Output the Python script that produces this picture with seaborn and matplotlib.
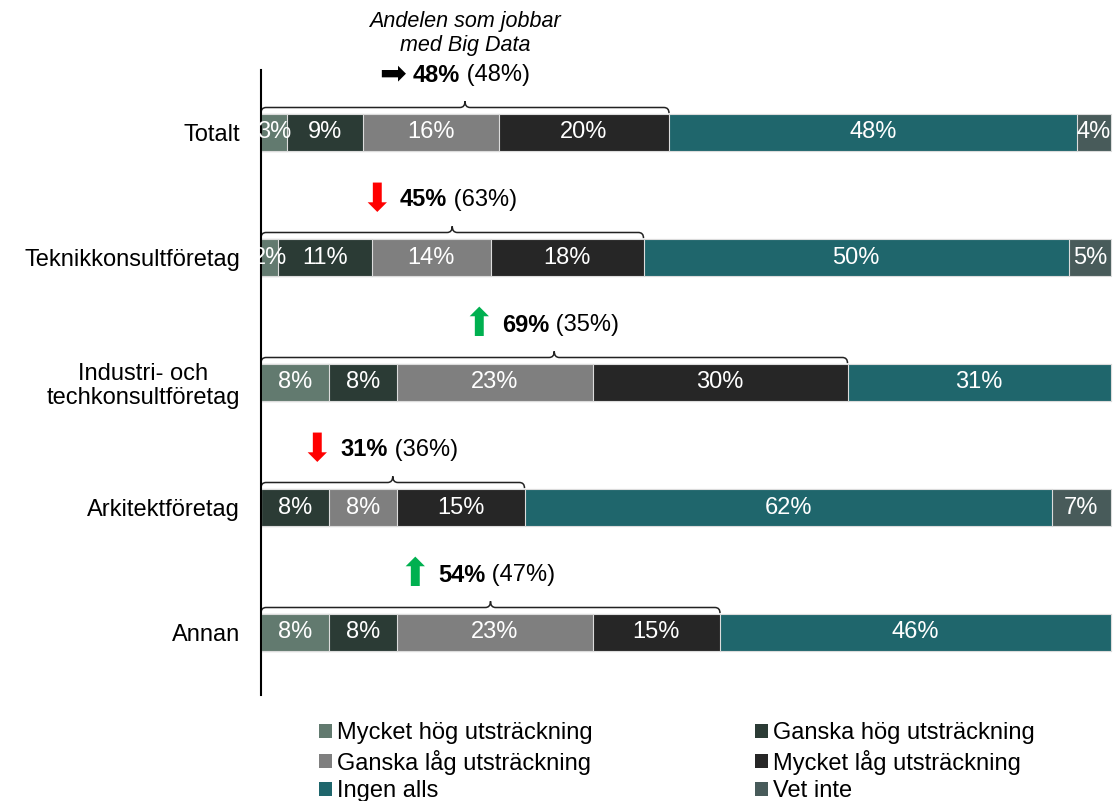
import numpy as np
import pandas as pd
import matplotlib
matplotlib.use('Agg')
import matplotlib.pyplot as plt
from matplotlib.path import Path
from matplotlib.patches import PathPatch, Patch
import seaborn as sns

# Data
categories = ['Totalt', 'Teknikkonsultföretag', 'Industri- och\ntechkonsultföretag',
              'Arkitektföretag', 'Annan']
series = ['Mycket hög utsträckning', 'Ganska hög utsträckning', 'Ganska låg utsträckning',
          'Mycket låg utsträckning', 'Ingen alls', 'Vet inte']
mycket_hog = [3, 2, 8, 0, 8]
ganska_hog = [9, 11, 8, 8, 8]
ganska_lag = [16, 14, 23, 8, 23]
mycket_lag = [20, 18, 30, 15, 15]
ingen_alls = [48, 50, 31, 62, 46]
vet_inte = [4, 5, 0, 7, 0]
big_data_share = [48, 45, 69, 31, 54]
previous_share = [48, 63, 35, 36, 47]
trend = ['flat', 'down', 'up', 'down', 'up']

colors = ['#627a6f', '#2b3b35', '#7f7f7f', '#262626', '#1f666c', '#485b5a']
# glyph, colour, font size
trend_glyph = {'flat': ('\u27a1', 'black', 23),
               'down': ('\u2b07', '#ff0000', 28),
               'up': ('\u2b06', '#00b050', 28)}

sns.set_theme(style='white')
plt.rcParams['font.family'] = ['Liberation Sans', 'DejaVu Sans']
plt.rcParams['text.color'] = 'black'

values = [mycket_hog, ganska_hog, ganska_lag, mycket_lag, ingen_alls, vet_inte]
df = pd.DataFrame({'kategori': categories})
for name, vals in zip(series, values):
    df[name] = vals
cum = df[series].cumsum(axis=1)

fig = plt.figure(figsize=(11.15, 8.01), dpi=100)
ax = fig.add_axes([261 / 1115, 1 - 695 / 801, (1115 - 261) / 1115, (695 - 70) / 801])

# stacked bars: draw cumulative totals from the longest down
for name, col in reversed(list(zip(series, colors))):
    sns.barplot(x=cum[name], y=df['kategori'], color=col, saturation=1, width=0.3,
                edgecolor='#dcdcdc', linewidth=0.8, orient='h', ax=ax)

ax.set_xlim(0, 100.47)
ax.set_ylim(4.5, -0.5)
ax.set_xlabel('')
ax.set_ylabel('')
ax.xaxis.set_visible(False)
for s in ['top', 'right', 'bottom']:
    ax.spines[s].set_visible(False)
ax.spines['left'].set_color('black')
ax.spines['left'].set_linewidth(1.5)
ax.tick_params(axis='y', length=0, pad=15, labelsize=17, labelcolor='black')
for lbl in ax.get_yticklabels():
    lbl.set_multialignment('center')
    lbl.set_linespacing(1.1)

# segment labels
for i in range(len(categories)):
    start = 0
    for name in series:
        v = df.loc[i, name]
        if v > 0:
            ax.text(start + v / 2, i, f'{v}%', ha='center', va='center',
                    color='white', fontsize=17)
        start += v


def brace(ax, x1, y_bar_top):
    c = x1 / 2
    rx = 0.6
    yb = y_bar_top - 0.005
    yl = y_bar_top - 0.05
    yt = y_bar_top - 0.1
    verts = [(0, yb), (0, yl), (rx, yl),
             (c - rx, yl), (c, yl), (c, yt),
             (c, yl), (c + rx, yl),
             (x1 - rx, yl), (x1, yl), (x1, yb)]
    codes = [Path.MOVETO, Path.CURVE3, Path.CURVE3,
             Path.LINETO, Path.CURVE3, Path.CURVE3,
             Path.CURVE3, Path.CURVE3,
             Path.LINETO, Path.CURVE3, Path.CURVE3]
    ax.add_patch(PathPatch(Path(verts, codes), fill=False, edgecolor='#222222',
                           linewidth=1.1, clip_on=False))


for i in range(len(categories)):
    share = big_data_share[i]
    brace(ax, share, i - 0.15)
    c = share / 2 - 0.6
    bold = ax.text(c, i - 0.46, f'{share}%', ha='right', va='center',
                   fontsize=17, fontweight='bold', color='black')
    ax.text(c, i - 0.46, f' ({previous_share[i]}%)', ha='left', va='center',
            fontsize=17, color='black')
    glyph, gcol, gsize = trend_glyph[trend[i]]
    ax.annotate(glyph, xy=(0, 0.5), xycoords=bold, xytext=(-5, 0),
                textcoords='offset points', ha='right', va='center',
                fontsize=gsize, color=gcol, family=['DejaVu Sans'])

ax.text(big_data_share[0] / 2, -0.79, 'Andelen som jobbar\nmed Big Data',
        ha='center', va='center', fontsize=15.5, style='italic', linespacing=1.2,
        color='black')

# legend, filled row by row
handles = [Patch(facecolor=c, edgecolor='none', label=n) for n, c in zip(series, colors)]
order = [0, 2, 4, 1, 3, 5]
fig.legend([handles[k] for k in order], [series[k] for k in order], ncol=2,
           loc='upper left', bbox_to_anchor=(319 / 1115, 1 - 722 / 801),
           frameon=False, fontsize=17, handlelength=0.55, handleheight=0.55,
           handletextpad=0.2, columnspacing=6.9, labelspacing=0.24,
           borderpad=0, borderaxespad=0, labelcolor='black')

fig.savefig('out.png', dpi=100)
